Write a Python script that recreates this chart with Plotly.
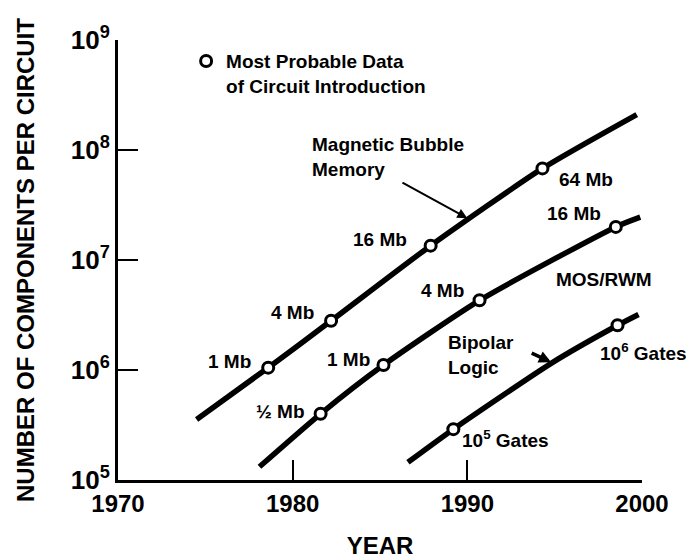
import plotly.graph_objects as go

# Magnetic bubble memory: year vs components per circuit
bubble_years = [1974.5, 1978.6, 1982.2, 1987.9, 1994.3, 1999.7]
bubble_counts = [3.55e5, 1.05e6, 2.8e6, 1.35e7, 6.8e7, 2.1e8]
bubble_marked = [False, True, True, True, True, False]

# MOS random write memory
mos_years = [1978.1, 1981.6, 1985.2, 1990.7, 1998.5, 1999.9]
mos_counts = [1.32e5, 4.0e5, 1.11e6, 4.3e6, 2.0e7, 2.45e7]
mos_marked = [False, True, True, True, True, False]

# Bipolar logic
bipolar_years = [1986.6, 1989.2, 1994.8, 1998.6, 1999.8]
bipolar_counts = [1.45e5, 2.9e5, 1.15e6, 2.55e6, 3.2e6]
bipolar_marked = [False, True, False, True, False]

year_ticks = [1970, 1980, 1990, 2000]
count_ticks = [1e5, 1e6, 1e7, 1e8, 1e9]
count_ticktext = ["10<sup>5</sup>", "10<sup>6</sup>", "10<sup>7</sup>", "10<sup>8</sup>", "10<sup>9</sup>"]

FONT = "Liberation Sans, Arial, sans-serif"

fig = go.Figure()

# the three curves
for xs, ys in [(bubble_years, bubble_counts), (mos_years, mos_counts), (bipolar_years, bipolar_counts)]:
    fig.add_trace(go.Scatter(x=xs, y=ys, mode="lines", showlegend=False,
                             line=dict(color="black", width=5.5, shape="spline", smoothing=0.6),
                             hoverinfo="skip"))

# introduction dates (open circles)
mark_x, mark_y = [], []
for xs, ys, ms in [(bubble_years, bubble_counts, bubble_marked),
                   (mos_years, mos_counts, mos_marked),
                   (bipolar_years, bipolar_counts, bipolar_marked)]:
    for x, y, m in zip(xs, ys, ms):
        if m:
            mark_x.append(x)
            mark_y.append(y)

fig.add_trace(go.Scatter(x=mark_x, y=mark_y, mode="markers",
                         name="Most Probable Data<br>of Circuit Introduction",
                         marker=dict(symbol="circle", size=11, color="white",
                                     line=dict(color="black", width=3))))

def label(text, x, y, anchor="center"):
    fig.add_annotation(x=x, y=y, text=text, showarrow=False, xanchor=anchor, align="left",
                       font=dict(family=FONT, size=19, color="black", weight="bold"))

label("1 Mb", 1976.4, 6.08)
label("4 Mb", 1980.0, 6.52)
label("16 Mb", 1985.0, 7.19)
label("64 Mb", 1996.8, 7.73)
label("½ Mb", 1979.3, 5.62)
label("1 Mb", 1983.2, 6.10)
label("4 Mb", 1988.6, 6.72)
label("16 Mb", 1996.1, 7.42)
label("MOS/RWM", 1997.8, 6.82)
label("10<sup>6</sup> Gates", 1997.5, 6.16, "left")
label("10<sup>5</sup> Gates", 1992.2, 5.37)
label("Magnetic Bubble<br>Memory", 1981.0, 7.94, "left")
label("Bipolar<br>Logic", 1988.8, 6.14, "left")

# pointer arrows
fig.add_annotation(x=1990.0, y=7.38, ax=1986.2, ay=7.71, axref="x", ayref="y",
                   showarrow=True, arrowhead=2, arrowsize=1, arrowwidth=2, arrowcolor="black", text="")
fig.add_annotation(x=1994.8, y=6.07, ax=1993.6, ay=6.16, axref="x", ayref="y",
                   showarrow=True, arrowhead=2, arrowsize=0.7, arrowwidth=3.5, arrowcolor="black", text="")

fig.update_layout(
    width=694, height=560,
    margin=dict(l=110, r=60, t=32, b=84),
    paper_bgcolor="white", plot_bgcolor="white",
    font=dict(family=FONT, size=24, color="black", weight="bold"),
    showlegend=True,
    legend=dict(x=0.13, y=0.995, xanchor="left", yanchor="top", valign="top",
                bgcolor="rgba(0,0,0,0)", font=dict(family=FONT, size=19, weight="bold")),
    xaxis=dict(range=[1970, 2000], tickvals=year_ticks, ticks="inside", ticklen=20, tickwidth=2,
               tickcolor="black", showline=True, linewidth=3, linecolor="black",
               showgrid=False, zeroline=False,
               title=dict(text="YEAR", standoff=22, font=dict(size=24))),
    yaxis=dict(type="log", range=[5, 9], tickvals=count_ticks, ticktext=count_ticktext,
               tickfont=dict(size=26),
               ticks="inside", ticklen=20, tickwidth=2, tickcolor="black",
               showline=True, linewidth=3, linecolor="black", showgrid=False, zeroline=False,
               title=dict(text="NUMBER OF COMPONENTS PER CIRCUIT", standoff=30, font=dict(size=24))),
)

fig.write_html("out.html")
